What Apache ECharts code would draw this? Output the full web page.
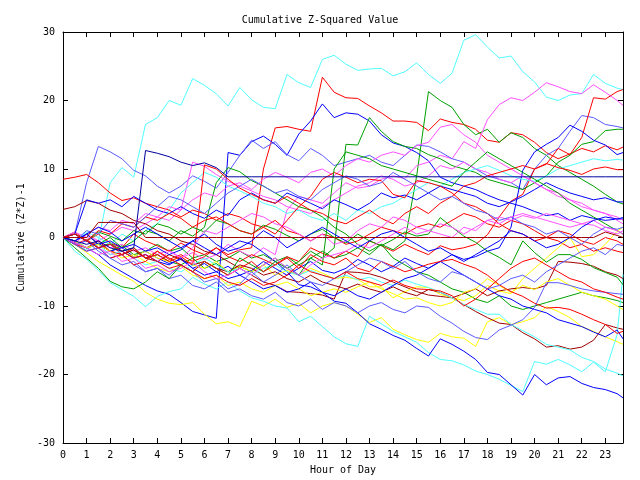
<!DOCTYPE html>
<html>
<head>
<meta charset="utf-8">
<script src="https://cdn.jsdelivr.net/npm/echarts@6/dist/echarts.min.js"></script>
<style>html,body{margin:0;padding:0;background:#fff}#c{width:640px;height:480px}</style>
</head>
<body>
<div id="c"></div>
<script>
const hours = [0,0.5,1,1.5,2,2.5,3,3.5,4,4.5,5,5.5,6,6.5,7,7.5,8,8.5,9,9.5,10,10.5,11,11.5,12,12.5,13,13.5,14,14.5,15,15.5,16,16.5,17,17.5,18,18.5,19,19.5,20,20.5,21,21.5,22,22.5,23,23.5,23.75];

const cyanTop = [0,-1,-1.8,-0.5,8,10.2,8.8,16.5, 17.5,20,19.3,23.2,22.2,21,19.2,21.9, 20.1,19,18.8,23.8,22.6,21.9,26,26.6, 25.3,24.4,24.6,24.7,23.6,24.2,25.5,23.8, 22.5,24,28.8,29.6,27.8,26.2,26.5,24.2, 22.7,20.5,20,20.8,21,23.8,22.5,21.8, 21.6];
const redR1 = [0,-1,-0.3,-1.5,-1,-2.5,-1.8,-3, -2,-3.2,-2.5,-3.5,-2.8,-1.5,-2.5,-1.8, -1.5,10,16,16.2,15.8,15.5,23.4,21.2, 20.4,20.3,19.2,18.2,17,17,16.8,15.6, 17.3,16.8,16.5,15.8,14.2,13.9,15.3,15, 13.9,12.4,11.5,12.2,13,12.5,13.4,12.8, 13.2];
const redR4 = [0,0.8,-0.5,0.5,-0.8,-1.5,0.5,-0.5, -1.2,-2,-0.8,-1.8,-2.5,-1.5,-2.8,-3.5, -2.5,-3.2,-4,-2.8,-3.5,-1.5,-2.3,-3, -2,-2.8,-0.5,-1.2,-2,-1,-1.8,-2.5, -1.2,-1.8,-1.5,-1,0.4,3,5.3,6.3, 10,10.7,13,12.1,14.6,20.4,20.2,21.3, 21.6];
const magA = [0,-0.8,0.5,-0.5,-1.5,-1,-2,-1.5, -2.5,-1.8,-3,-2.2,-3.2,-2.5,-1,-2, -2.8,-1.5,-2.5,4,6,5.5,5,6.5, 8,7.2,7.5,8.5,9,8.6,10.5,11, 12,11.5,14,13,17.2,19.4,20.4,20, 21.2,22.6,22,21.3,21,22.3,21.2,20, 19.3];
const periP1 = [0,0.5,8,13.3,12.5,11.5,9.8,9, 7.5,6.5,7.5,9,8.2,7.2,9.5,12, 14.2,13,14,12.1,11.2,13,12,10.5, 11,11.5,12,11,10.5,12,13.5,13.3, 12.5,11.5,11,10,9,8.5,8,7, 10,12,13,15.5,17.8,17.5,16.5,16.2, 16];
const greenG1 = [0,-0.5,-1.5,-1,-2,-1.2,-2.5,-2, -1,-2,-1.5,-3,-2.5,-3.5,-3,-2, -3,-2.5,-3.5,-2.8,-4,-3,-2,-3, -2.5,-1.5,-2.5,-1,-1.8,-0.5,9,21.3, 20,19,16.5,15,15.8,13.9,15.3,14.6, 13,12,10.5,9.5,8.5,7.5,6.3,5.2, 4.9];
const greenG2 = [0,0.5,-0.5,-1.5,-0.8,-2,-1.5,-3, -2.5,-3.5,-4,-3,-4.5,-3.8,-5,-4.2, -5,-4,-3,-4.5,-3.5,-2,-3,-1.5, 13.6,13.5,17.5,15.5,14,13.3,13,12.1, 11.5,10.5,10,9.5,8.5,8,7.5,7, 8,9,11,12,13.6,14,15.6,15.8, 15.8];
const greenG3 = [0,-0.5,0.5,-1,0,-1.5,-0.5,1, 0.5,-0.5,1,0.2,1.5,8,10.2,9.6, 8.3,7.5,6.5,5.5,4.5,4,3,1.5, 0.5,-1,-2,-1,-3,-4,-5,-5.5, -6.5,-7.5,-8,-9,-9.5,-8.5,-10,-10.5, -10,-9.5,-9,-8.5,-8,-8.5,-8.8,-9.2, -9.5];
const greenG4 = [0,0.5,-0.5,0.8,0.2,-0.5,1,0.5, 2,1.5,0.5,1.5,0.8,2.5,2,1, 0.5,1.8,1.2,0.3,-0.5,0.5,1.2,0, -0.8,0.5,-0.5,-1.2,-0.3,0.8,0.2,0.5, 2.9,1.5,0.2,-0.7,-2,-2.9,-4,-0.5, -2.2,-3.6,-2.5,-2.5,-3.2,-4.4,-5.1,-5.8, -6.9];
const greenG5 = [0,-1.5,-3,-4.5,-6.4,-7.2,-7.5,-6.5, -5,-6,-4,-5,-3.5,-4.5,-5.5,-3, -4,-5,-3.5,-4.5,-5.5,-3,-4,10, 12.5,12,11.5,10.5,10,9.5,9,8.5, 8,7.5,9.5,11,12.5,11.5,10.5,9.5, 8.5,7.5,6.5,5,4,3,2,1, 0.5];
const navyFlat = [0,-0.5,-1,-0.5,-1.5,-2,-1.5,12.7, 12.3,11.8,11,10.5,10.9,10.2,8.86,8.86, 8.86,8.86,8.86,8.86,8.86,8.86,8.86,8.86, 8.86,8.86,8.86,8.86,8.86,8.86,8.86,8.86, 8.86,8.86,8.86,8.86,8.86,8.86,8.86,8.86, 8.86,8.86,8.86,8.86,8.86,8.86,8.86,8.86, 8.86];
const darkRedZero = [0,0,0,2.2,2.2,2.2,2.2,0, 0,0,0,0,0,0,0,0, 0,0,0,0,0,0,0,0, 0,0,0,0,0,0,0,0, 0,0,0,0,0,0,0,0, 0,0,0,0,0,0,0.8,0.3, 0];
const darkRed1 = [4.1,4.5,5.4,5,4,3.5,2.5,2, 1,0.5,-0.5,-1,-2,-2.5,-3.5,-4.5, -5.5,-6.5,-7,-7.9,-8,-8.2,-8.4,-9, -5,-5.1,-5.3,-5.8,-6.5,-7.2,-7.9,-8.4, -8.6,-8.8,-9.8,-10.8,-11.7,-12.5,-12.7,-13.9, -14.8,-16,-15.8,-16.3,-16,-15,-12.7,-13.2, -13.4];
const darkRed2 = [0,-0.8,-1.5,-1,-2,-2.5,-1.8,-3, -3.5,-2.5,-3.2,-4,-3.5,-4.5,-5,-4, -4.5,-5.5,-5,-6,-6.5,-5.5,-6.5,-7, -7.5,-6.8,-7.5,-8,-7.2,-8,-8.5,-7.6, -8,-8.8,-8.2,-7.5,-8.5,-7.8,-7.5,-7.3, -7.5,-7,-3.5,-3.6,-3.8,-4.2,-5,-5.5, -6];
const redRl1 = [0,-1,-2,-1.5,-3,-2.5,-4,-3.5, -2,-3,-4,-5,-3.5,-4.5,-5.5,-4.5, -3.5,-5,-4,-3,-4.5,-2.5,-3.5,-4, -3,-4.5,-5,-3.5,-4.2,-5,-4.5,-3.9, -3.5,-3.2,-3.9,-4.5,-5.5,-6.9,-7.9,-8.6, -9.6,-10.3,-10.2,-10.5,-11.2,-12,-12.7,-14, -13.7];
const redRl2 = [0,0.5,-0.5,-1.5,-1,-2,-3,-2.5, -3.5,-4.5,-4,-5,-6,-5.5,-6.5,-7, -6,-7,-6.5,-5.5,-4,-5,-5.5,-6, -5,-6,-6.5,-7,-6.2,-7,-7.5,-7.6, -7.8,-8.5,-10,-9,-7.5,-6,-4.5,-3.5, -3,-4,-5,-6,-6.5,-7.5,-8,-8.7, -9];
const blueBb1 = [0,-0.5,0.5,-1,-0.5,-1.5,-1,-2, -1.5,-2.5,-1.8,-0.5,-1.5,-2.5,-1.5,-0.5, -1,-2.2,-3.5,-5,-6.9,-7.2,-8,-9.3, -9.6,-11,-12.6,-13.4,-14.3,-15,-16.2,-17.3, -14.8,-15.6,-16.6,-17.8,-19.7,-20,-21.5,-23, -20,-21.5,-20.5,-20.3,-21.3,-21.9,-22.2,-22.8, -23.4];
const cyanCb1 = [0,-2,-3.2,-4.8,-6.6,-7.6,-8.6,-10.1, -8.6,-7.9,-7.5,-5.8,-6.8,-7.5,-6.5,-7.8, -8.8,-9.3,-10,-10.3,-12.3,-11.5,-13,-14.5, -15.5,-15.9,-11.5,-12.6,-13.7,-14.5,-15.3,-16.8, -17.8,-18,-18.6,-19.5,-20,-20.7,-21.6,-22.5, -18.1,-18.5,-17.8,-18.6,-19.6,-18.2,-19.6,-14.2, -5.4];
const cyanCb2 = [0,-0.5,-1.5,-1,-2.5,-2,-3,-4, -3.5,-4.5,-5,-4,-3,-4,-5,-4.5, -5.5,-4.5,-4,-5,-5.5,-4.8,-5.5,-6, -5.5,-6.2,-5.8,-6.5,-7,-6.2,-6.8,-7.3, -8,-8.8,-9.8,-10.5,-11.2,-11.2,-12.7,-13.6, -14.5,-15.6,-16,-16.4,-17.5,-18.1,-19.2,-19.8, -20.2];
const yellowY1 = [0,-1,-2.2,-3.5,-4.5,-5.5,-6.4,-8, -9,-9.6,-9.8,-9.5,-11.2,-12.6,-12.3,-13, -9.3,-10,-9,-10.2,-9.6,-11,-10,-9.5, -10,-11.2,-12.4,-11.7,-13.4,-14.2,-14.9,-15.3, -14,-14.5,-14.7,-15.9,-12.3,-11.7,-12.7,-12.3, -11.7,-10.1,-10.8,-11.7,-13,-13.7,-14.5,-15.2, -15.6];
const yellowY2 = [0,0.5,-0.5,-1.5,-1,-2,-2.8,-2, -3,-3.5,-2.8,-4,-4.5,-3.5,-5,-4.2, -5,-4,-5.5,-4.8,-5.5,-4.5,-5.2,-6, -5.8,-6.1,-7.2,-7.2,-8.8,-7.9,-7.2,-7.3, -8.3,-8.8,-9.2,-8.5,-7,-7.8,-8.2,-6, -4.5,-3,-1.5,0,-2.8,-2.5,-1,0.9, 1.5];
const yellowY3 = [0,-0.5,-1.5,-1,-2,-3,-2.5,-3.5, -4.5,-5,-4.2,-5.5,-6,-5.5,-7,-6.5, -7.5,-8,-7,-6.5,-7.5,-8.5,-8,-7.5, -8,-7.2,-6.5,-7.5,-8.2,-9,-8.8,-9.5, -10,-9.5,-8,-7.5,-6,-7,-8,-7, -7.6,-6.5,-6,-7,-8,-8.5,-9,-10, -10.5];
const periPb = [0,-1,-0.5,-2,-3,-2.5,-4,-5, -4.5,-6,-5.5,-7,-7.5,-6.5,-8,-7.5, -8.5,-9,-8,-9.5,-10,-9,-10.5,-9.5, -10,-11,-10,-9.5,-10.5,-11,-10,-10.2, -11.5,-12.5,-13.7,-14.6,-14.9,-13.5,-12.8,-12, -10.2,-6.6,-6.6,-7,-7.5,-7.8,-8,-8.2, -8.3];
const blueB4 = [0,-0.5,-1.5,-0.8,-2,-1.5,-2.8,-2, -3,-3.8,-3.2,-4.5,-3.8,-5,-4.2,-5.5, -4.8,-3.5,-4.5,-5.5,-4.5,-3.5,-4.8,-5.2, -4.5,-3.2,-4,-5,-4.2,-3,-3.8,-4.5, -3.5,-2.5,-3.2,-2.8,-2,-1.5,1.5,9.8, 12.5,13.6,14.6,16.4,15.5,14.2,13.5,12.1, 12.4];
const blueB3 = [0,-0.8,-1.5,-2.5,-4,-5,-6,-7, -7.8,-8.3,-9.5,-10.8,-11.3,-11.8,12.4,12, 14,14.8,13.6,12,15.1,17,19.5,17.5, 18.2,18,17,15,13.8,13.3,12.4,11.2, 8.8,8,7.5,7,6.2,5.5,5,4.5, 3.8,3.2,3.5,2.5,3.2,2.8,2.5,2.7, 2.7];
const blueB5 = [0,0.5,5.5,5,5.5,4.5,6,5, 4,3.5,4.5,3.5,2.8,4,3.2,5.5, 6.5,5.5,5,6.5,5.8,5,4.2,5.5, 4.8,4,5,6.5,5.8,6.2,5.5,6.5, 7.5,7,6.5,6,5,4.5,5.2,6, 7,8,7.2,6.5,6,5.5,5.8,5.2, 5.2];
const cyanC3 = [0,-0.5,0.8,0,-1,0.5,-0.5,1, 2,4,6.5,8,9.5,8.8,7.5,6.8, 6,5,4.5,3.5,4,3,2.5,3.5, 2.5,4,3.5,4.5,5,6,7,8, 7.5,8.5,9.5,10,10.5,9.8,9,8.5, 8.2,9,10,10.5,11,11.5,11.2,11.4, 11.3];
const magM1 = [0,0.8,0,-0.5,0.5,1.5,1,2, 3,2.5,4,11,10.4,9.2,8.2,7.5, 6.8,6,5.5,4.5,4,3.5,4.5,5.5, 6.5,7.5,8,9,8.5,7.5,8,9, 10.5,10,11,10,9.5,8.5,8,9, 8,7,6.5,5.5,5,4,3.5,3, 2.5];
const magM2 = [0,-0.5,0.5,1.5,1,2.5,2,3.5, 3,4.5,4,5.5,6.5,6,7.5,8, 7,8.5,9.5,8.8,8,9.5,10,9, 10.5,11.5,11,12,12.5,12,13.4,13.9, 16.1,16.5,15,13.9,12,11,10,9, 8,7,6,5.5,4.5,4,3.5,2.5, 2];
const magM3 = [0,-1,-0.5,-1.5,-2.5,-2,-3,-2.5, -3.5,-2,-3,-1.5,1,0.5,1.5,2.5, 3.5,3,2,1.5,0.5,-0.5,0.5,-1, -0.5,1,2,1.5,3,2.5,1.5,1, 0.5,0,1.5,1,2.5,3,2.5,3.2, 2.8,3.5,3,2.5,2,1.8,1,0.5, 1];
const magM4 = [0,-0.8,-1.5,-2.5,-2,-3.5,-3,-4.5, -4,-5,-4.5,-3.5,-5,-6,-5.5,-4.5, -5.5,-4,-3,-4.5,-5.5,-4,-3,-2.5, -2,-1,-1.5,-0.5,0.5,1.5,0.5,1, 2,1.5,0.5,1.5,2.5,2,3,3.5, 3,2.5,2,1.5,2,2.5,1.5,1, 0.5];
const redR2 = [8.5,8.8,9.2,8,6.5,5.4,5.8,5, 4.5,4,3,4,3.5,2.5,3.5,3, 2,1.5,2.5,1,0.5,-0.5,0.5,0, -1,-0.5,0.5,1.5,1,0.5,1.5,2, 1.5,2.5,3.5,3,2,1.5,2.5,2, 1,0,-0.5,-1.5,-1,-2,-1.5,-2, -2.2];
const redR3 = [0,-1,-1.5,-0.5,-2,-2.5,-1.5,-3, -2.5,-3.5,-2.8,-4,10.6,10,8.5,7.2, 6.3,5.5,5,6,5,4,3.5,2.5, 2,3,4,2.8,2,3.5,4.5,3.5, 5,6,7.5,8,9,9.5,10,10.5, 10,10.8,10.2,9.8,9.2,10,10.3,9.9, 9.9];
const redR5 = [0,0.5,-0.5,1,0.5,2,1.5,3, 2.5,3.5,2.8,1.5,2.5,3,2,1, 0.5,1.5,0.5,2.5,4.5,6,8.5,9.5, 8.8,8,8.5,8.3,6.3,5.8,8.3,8, 7.5,6.5,5,4.5,3.5,2,1,0.5, -0.5,0,1,0.5,-0.5,-1,0,-0.5, -1];
const periP2 = [0,-0.5,1,0.5,2.5,2,1.5,3, 4.5,6,5.5,4.5,3.5,5,6.5,7.5, 8.5,7.5,6.5,7,6,5.5,7,8, 9,8.5,7.5,8,9.5,8.5,7.5,6.5, 5.5,6,5,4,3.5,2.5,3,2, 1.5,0.5,1,0,-1,0.5,1.5,1.2, 1.5];
const periP3 = [0,-1,-2,-1.5,-3,-4,-3.5,-5, -4.5,-5.5,-4,-5,-6.5,-6,-7.5,-6.8, -5,-6.5,-5.5,-4,-5.5,-6.5,-7,-6, -5,-4,-3,-3.5,-4.5,-3.5,-5,-6, -6.5,-5,-5.5,-6.5,-7.5,-7,-6,-5.5, -6.5,-5,-4,-3,-2,-1.5,-2.5,-1, -1.2];
const blueB6 = [0,0.5,-0.5,-1.5,-1,-2,-3,-2.5, -3.5,-4,-3,-4.5,-5.5,-5,-6,-5.5, -6.5,-7.5,-7,-8,-7.5,-6.5,-8,-8.5, -7.5,-8.5,-9,-8,-7,-6,-5.5,-4.5, -3.5,-4.5,-5.5,-6.5,-7.5,-8.5,-9,-10, -10.5,-11,-12,-12.5,-13,-13.8,-14.5,-13.5, -14.8];
const blueB7 = [0,-0.5,0.5,1.5,0.8,-0.5,0.5,1.5, 0.5,-0.5,-1.5,-0.5,0.5,-1,-2,-1.5, -0.5,1,0,-1.5,-0.5,0.5,1.5,0.5, -0.5,-1.5,-0.5,0.5,1,0,-1,-2, -1.5,-2.5,-3.5,-2.5,-1.5,-0.5,1,0.5, -0.5,-1.5,-1,0,1.5,2.5,3,2.7, 2.9];

const C = {red:'#ff0000', green:'#00a000', blue:'#0000ff', peri:'#5a5aff', mag:'#ff50ff', cyan:'#50ffff', yellow:'#ffff00', dred:'#a00000', navy:'#0000a0'};

const lines = [
  [cyanTop,'cyan'],[redR1,'red'],[greenG1,'green'],[blueB3,'blue'],[magA,'mag'],
  [periP1,'peri'],[redR4,'red'],[greenG2,'green'],[blueB4,'blue'],[magM1,'mag'],
  [cyanC3,'cyan'],[yellowY1,'yellow'],[darkRed1,'dred'],[redR2,'red'],[greenG3,'green'],
  [blueB5,'blue'],[magM2,'mag'],[cyanCb1,'cyan'],[yellowY2,'yellow'],[darkRed2,'dred'],
  [redR3,'red'],[greenG4,'green'],[blueBb1,'blue'],[magM3,'mag'],[cyanCb2,'cyan'],
  [yellowY3,'yellow'],[periPb,'peri'],[redR5,'red'],[greenG5,'green'],[blueB6,'blue'],
  [periP2,'peri'],[redRl1,'red'],[magM4,'mag'],[periP3,'peri'],[redRl2,'red'],
  [blueB7,'blue'],[navyFlat,'navy'],[darkRedZero,'dred']
];

const font = 'DejaVu Sans Mono';
const series = lines.map(([arr,col]) => ({
  type:'line', symbol:'none', showSymbol:false, silent:true, animation:false,
  lineStyle:{width:1, color:C[col]},
  data: hours.map((h,i)=>[h, arr[i]])
}));

function ax(extra){
  return Object.assign({
    axisLine:{show:true, onZero:false, lineStyle:{color:'#000', width:1}},
    axisTick:{show:true, inside:true, length:5, lineStyle:{color:'#000'}},
    splitLine:{show:false}
  }, extra);
}
function txt(){ return {color:'#000', fontFamily:font, fontSize:10}; }

const chart = echarts.init(document.getElementById('c'));
chart.setOption({
  animation:false,
  backgroundColor:'#ffffff',
  title:{text:'Cumulative Z-Squared Value', left:'center', top:10,
    textStyle:{fontFamily:font, fontSize:10, fontWeight:'normal', color:'#000'}},
  grid:{left:63, right:17, top:32, bottom:37},
  xAxis:[
    ax({type:'value', min:0, max:23.75, interval:1, position:'bottom',
      axisLabel:Object.assign(txt(), {margin:7, showMaxLabel:false}),
      name:'Hour of Day', nameLocation:'middle', nameGap:22, nameTextStyle:txt()}),
    ax({type:'value', min:0, max:23.75, interval:1, position:'top', axisLabel:{show:false}})
  ],
  yAxis:[
    ax({type:'value', min:-30, max:30, interval:10, position:'left',
      axisLabel:Object.assign(txt(), {margin:8}),
      name:'Cumulative (Z*Z)-1', nameLocation:'middle', nameGap:36, nameRotate:90, nameTextStyle:txt()}),
    ax({type:'value', min:-30, max:30, interval:10, position:'right', axisLabel:{show:false}})
  ],
  series: series
});
</script>
</body>
</html>
